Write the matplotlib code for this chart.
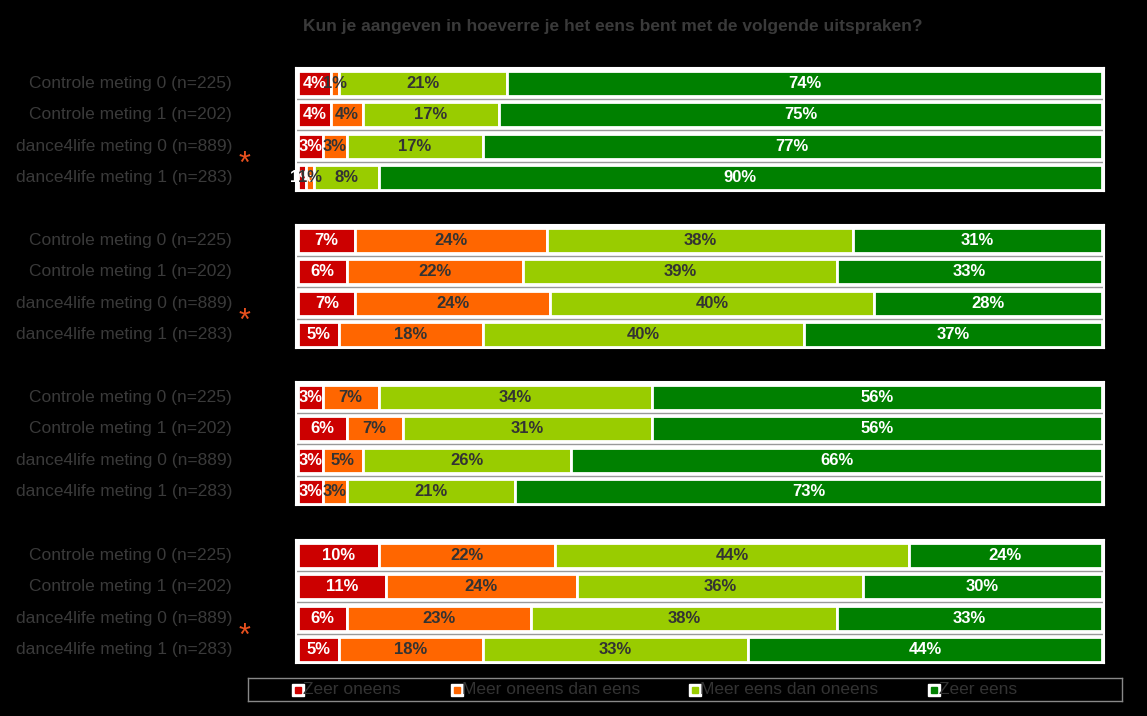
import matplotlib.pyplot as plt

plt.rcParams['font.family'] = ['Liberation Sans', 'DejaVu Sans']

# data
rows = ['Controle meting 0 (n=225)', 'Controle meting 1 (n=202)',
        'dance4life meting 0 (n=889)', 'dance4life meting 1 (n=283)']
categories = ['Zeer oneens', 'Meer oneens dan eens', 'Meer eens dan oneens', 'Zeer eens']
colors = ['#cc0000', '#ff6600', '#99cc00', '#008000']
text_colors = ['white', '#333333', '#333333', 'white']

groups = [
    [[4, 1, 21, 74], [4, 4, 17, 75], [3, 3, 17, 77], [1, 1, 8, 90]],
    [[7, 24, 38, 31], [6, 22, 39, 33], [7, 24, 40, 28], [5, 18, 40, 37]],
    [[3, 7, 34, 56], [6, 7, 31, 56], [3, 5, 26, 66], [3, 3, 21, 73]],
    [[10, 22, 44, 24], [11, 24, 36, 30], [6, 23, 38, 33], [5, 18, 33, 44]],
]
group_titles = ['',
                'Ik vind dat de voorlichting over seksualiteit op school voor iedereen toegankelijk moeten zijn',
                '', '']
significant = [True, True, False, True]

W, H = 1147, 716
fig = plt.figure(figsize=(W / 100, H / 100), dpi=100, facecolor='black')

fig.text(613 / W, 1 - 27 / H, 'Kun je aangeven in hoeverre je het eens bent met de volgende uitspraken?',
         ha='center', va='center', color='#3a3a3a', fontsize=12.5, fontweight='bold')

panel_tops = [68, 225, 382, 540]
panel_h = 123
left, right = 296, 1104

for g, vals in enumerate(groups):
    top = panel_tops[g]
    ax = fig.add_axes([left / W, 1 - (top + panel_h) / H, (right - left) / W, panel_h / H])
    ax.set_facecolor('white')
    for s in ax.spines.values():
        s.set_color('white')
        s.set_linewidth(1.5)
    ax.set_xlim(-0.3, 100.3)
    ax.set_ylim(3.42, -0.48)
    ax.set_xticks([])
    ax.set_yticks([])
    for r, row in enumerate(vals):
        total = sum(row)
        start = 0
        for k, v in enumerate(row):
            w = v * 100 / total
            ax.barh(r, w, left=start, height=0.8, color=colors[k],
                    edgecolor='white', linewidth=2)
            ax.text(start + w / 2, r, f'{v}%', ha='center', va='center',
                    color=text_colors[k], fontsize=12, fontweight='bold')
            start += w
        if r < 3:
            ax.axhline(r + 0.5, color='#999999', linewidth=1)
        # row label
        y_pix = top + 15.5 + r * 31.3
        fig.text(232 / W, 1 - y_pix / H, rows[r], ha='right', va='center',
                 color='#3a3a3a', fontsize=12.5)
    if group_titles[g]:
        fig.text(300 / W, 1 - (top - 2) / H, group_titles[g], ha='left', va='bottom',
                 color='black', fontsize=12, fontweight='bold')
    if significant[g]:
        fig.text(244 / W, 1 - (top + 97) / H, '*', ha='center', va='center',
                 color='#e8501e', fontsize=22)

# legend
lax = fig.add_axes([248 / W, 1 - 701 / H, (1122 - 248) / W, 23 / H])
lax.set_facecolor('black')
lax.set_xlim(248, 1122)
lax.set_ylim(0, 1)
lax.set_xticks([])
lax.set_yticks([])
for s in lax.spines.values():
    s.set_color('#888888')
    s.set_linewidth(1)
leg_x = [298, 457, 695, 934]
for k, name in enumerate(categories):
    lax.plot(leg_x[k], 0.5, marker='s', markersize=9, markerfacecolor='white',
             markeredgecolor='white')
    lax.plot(leg_x[k], 0.5, marker='s', markersize=4, markerfacecolor=colors[k],
             markeredgecolor=colors[k])
    lax.text(leg_x[k] + 5, 0.5, name, ha='left', va='center', color='#333333', fontsize=12.5)

fig.savefig('out.png', dpi=100, facecolor='black')
